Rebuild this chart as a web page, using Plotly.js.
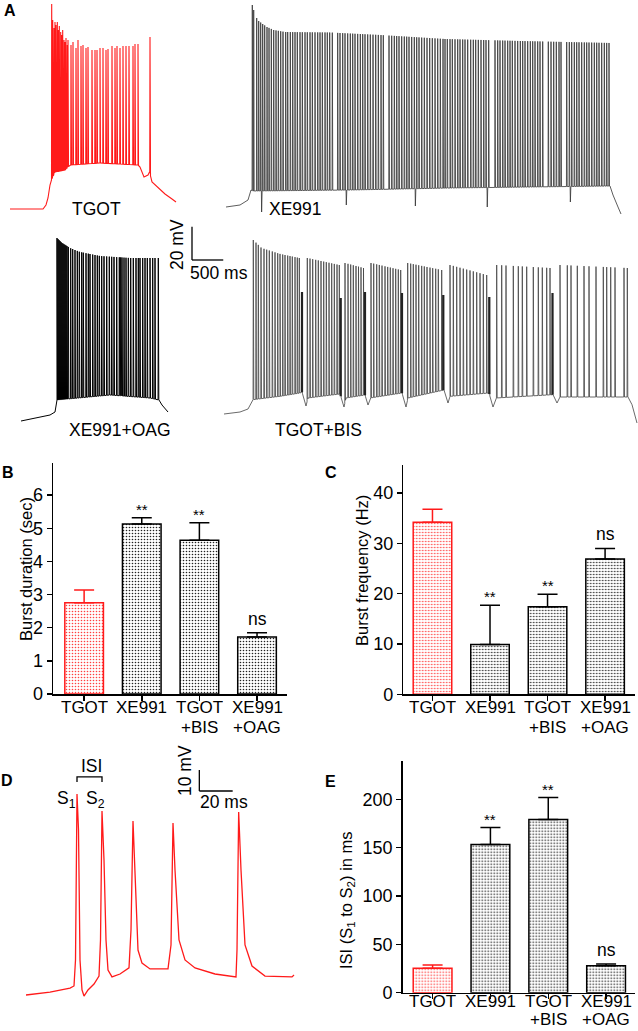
<!DOCTYPE html>
<html><head><meta charset="utf-8">
<script src="https://cdn.plot.ly/plotly-3.0.1.min.js"></script>
<style>html,body{margin:0;padding:0;background:#fff}#chart{width:638px;height:1031px}</style>
</head><body><div id="chart"></div>
<script>
// ================= DATA =================
// Panel A traces: time in ms from trace start, membrane potential in mV
const tgotEnvT = [0,528,576,608,640,664,720,880,960,1440,2048,2080,2144,2208,2232,2272,2368,2480,2592,2656];
const tgotEnvV = [-65,-65,-62.6,-58.4,-50.6,-47.6,-42.8,-41.6,-38.6,-37.4,-38.6,-39.8,-45.8,-44.6,-42.8,-48.8,-52.4,-56,-59,-60.8];
const tgotSpikeT = [667,683,704,720,736,757,773,789,811,827,843,864,880,896,917,928,976,1008,1056,1088,1136,1168,1216,1248,1312,1360,1392,1440,1488,1536,1568,1632,1680,1712,1760,1808,1856,1904,1968,2000,2048,2240];
const tgotSpikeV = [58,48.4,43.6,47.2,45.4,47.2,42.4,44.8,41.2,39.4,42.4,36.4,35.2,37.6,33.4,36.4,33.4,35.2,31.6,36.4,32.8,33.4,31.6,32.2,30.4,30.4,30.4,31.6,31.6,30.4,31,32.8,31.6,32.8,31.6,32.8,32.8,32.8,32.8,34,34,38.2];

const xeEnvT = [0,224,352,400,432,1984,3584,6144,6192,6272,6320];
const xeEnvV = [-65,-63.8,-60.8,-54.8,-55.4,-54.8,-53.6,-52.4,-57.8,-65,-69.2];
const xeSpikeT = [421,443,491,523,555,587,619,656,688,725,763,800,837,875,912,955,987,1029,1067,1104,1141,1184,1221,1264,1301,1344,1381,1424,1467,1504,1541,1584,1621,1659,1701,1787,1824,1867,1904,1947,1989,2027,2064,2107,2149,2187,2224,2267,2309,2352,2395,2437,2480,2517,2608,2651,2693,2731,2768,2811,2853,2891,2928,2971,3013,3051,3088,3131,3173,3216,3259,3301,3344,3387,3429,3472,3504,3541,3584,3621,3664,3707,3744,3787,3824,3867,3915,3957,3995,4037,4080,4123,4160,4203,4304,4347,4384,4427,4464,4507,4544,4581,4624,4667,4709,4747,4784,4827,4869,4907,4944,4987,5024,5067,5157,5200,5243,5285,5328,5360,5451,5493,5531,5573,5611,5648,5691,5733,5771,5808,5851,5893,5931,5968,6011,6053,6091,6128];
const xePeakT = [421,443,491,523,587,656,763,944,1664,2464,3504,4704,6144];
const xePeakV = [56.2,53.2,48.4,46.6,44.8,43,41.2,40,39.7,38.2,35.8,34.6,33.4];
const xeArtifactT = [570,1925,3030,4180,5510];
const xeArtifactV = [-68,-63.8,-64.4,-65,-62];

const oagEnvT = [0,224,464,544,576,1424,2064,2208,2256,2352];
const oagEnvV = [-65.6,-63.8,-62,-60.2,-53,-50,-51.8,-53,-56,-60.2];
const oagSpikeT = [576,592,608,624,640,656,672,688,704,720,736,757,795,827,864,901,933,971,997,1040,1077,1104,1147,1184,1221,1253,1291,1328,1371,1413,1451,1488,1531,1573,1595,1616,1648,1680,1717,1755,1797,1840,1877,1904,1947,1984,2021,2064,2107,2144,2197];
const oagPeakT = [576,656,784,944,1264,1744,2197];
const oagPeakV = [44.2,41.2,38.2,35.8,33.4,32.2,32.2];

const bisEnvT = [0,256,384,448,464,896,1216,1248,1312,1344,1856,1920,1952,2256,2304,2336,2848,2912,2944,3520,3584,3616,4240,4304,4352,5264,5328,5376,6464,6528,6608];
const bisEnvV = [-65.6,-64.4,-62.6,-58.4,-57,-55,-53,-52.4,-60.8,-56,-53.6,-61.4,-56,-54.2,-60.2,-56,-53,-61.4,-56,-51.2,-59,-55,-53,-61.4,-56,-54,-59,-55.4,-55.4,-60,-71];
const bisSpikeT = [469,512,549,592,640,683,725,773,816,859,896,939,976,1019,1056,1093,1136,1173,1205,
  1333,1376,1419,1467,1509,1552,1595,1637,1680,1723,1765,1808,1845,
  1936,1984,2027,2069,2112,2152,2192,2232,
  2352,2395,2443,2485,2528,2576,2619,2661,2704,2747,2789,2827,
  2939,2987,3029,3072,3115,3163,3205,3248,3296,3339,3387,3429,3483,
  3616,3669,3723,3776,3829,3883,3936,3989,4043,4096,4149,4203,
  4363,4443,4512,4629,4709,4773,4843,4949,5029,5093,5163,5216,
  5376,5493,5552,5653,5760,5840,5952,6069,6123,6187,6256,6400,6453];
const bisPeakT = [469,600,900,1205,1333,1845,1936,2232,2352,2827,2939,3483,3616,4203,4363,5216,5376,6453];
const bisPeakV = [38.8,34,30.4,28,28,23.8,25,22,25,20.8,25,20.8,23.8,17.8,23.8,22,23.8,22];
const bisPartialT = [1248,1867,2256,2848,3509,4245,5256];
const bisPartialV = [7.6,4,7.6,7,5.8,4.6,7];

// Panel D: time ms, mV
const dT = [0,14.4,26.4,28.8,29.7,30.6,31.5,32.4,33.6,34.8,37.2,40.8,43.8,44.7,45.6,46.8,48,49.2,51.6,56.4,61.8,63,64.2,65.4,67.2,69.6,74.4,85.2,87,88.2,89.4,91.8,95.4,101.4,113.4,126,126.6,127.6,129,131.4,135.6,143.4,155.4,159.6,160.8];
const dV = [-65,-63.6,-61.7,-60.7,-48.3,30.7,13.5,-48.3,-62.6,-65.5,-62.6,-59.8,-56,-38.8,22.6,-0.7,-38.8,-53.1,-56.4,-55,-52.1,-34.1,17.8,-10.3,-43.6,-49.8,-52.6,-52.6,-41.2,16.9,-5.5,-38.8,-48.3,-52.1,-55,-56.4,-43.6,22.1,-5.5,-41.2,-51.2,-56,-56.4,-56.4,-55.5];

// Scale bars
const scaleA_ms = 500, scaleA_mV = 20;
const scaleD_ms = 20, scaleD_mV = 10;

// Bar charts
const categories = ['TGOT','XE991','TGOT<br>+BIS','XE991<br>+OAG'];
const burstDuration = [2.75, 5.13, 4.64, 1.72];
const burstDurationSem = [0.39, 0.19, 0.53, 0.13];
const burstFreq = [34.2, 9.9, 17.4, 26.9];
const burstFreqSem = [2.6, 7.8, 2.5, 2.1];
const isiMs = [25.2, 153.3, 179.1, 27.9];
const isiSem = [3.4, 17.6, 22.8, 1.7];
const significance = ['', '**', '**', 'ns'];

// ================= DRAWING =================
const W = 638, H = 1031;
const FONT = 'Arial, "Liberation Sans", Helvetica, sans-serif';
const RED = '#ff1a1a';
const MS_PER_PX = 16, MV_PER_PX = 0.6, REST = -65;

function interp(xs, ys, x){
  if (x <= xs[0]) return ys[0];
  for (let i = 1; i < xs.length; i++){
    if (x <= xs[i]){ const f = (x - xs[i-1]) / (xs[i] - xs[i-1]); return ys[i-1] + f * (ys[i] - ys[i-1]); }
  }
  return ys[ys.length - 1];
}
function buildTrace(envT, envV, events){
  const pts = [];
  envT.forEach((t, i) => pts.push([t, envV[i]]));
  events.forEach(e => {
    pts.push([e.t - 4, interp(envT, envV, e.t - 4)]);
    pts.push([e.t, e.v]);
    pts.push([e.t + 8, interp(envT, envV, e.t + 8)]);
  });
  pts.sort((a, b) => a[0] - b[0]);
  return {x: pts.map(p => p[0]), y: pts.map(p => p[1])};
}
function spikesFrom(times, peaks, peakT, peakV){
  return times.map((t, i) => ({t, v: peaks ? peaks[i] : interp(peakT, peakV, t)}));
}
const dx = (l, r) => [l / W, r / W];
const dy = (t, b) => [1 - b / H, 1 - t / H];
function traceAxes(l, r, t, b, basePx){
  return {
    x: {domain: dx(l, r), range: [0, (r - l) * MS_PER_PX], visible: false, fixedrange: true},
    y: {domain: dy(t, b), range: [REST - (b - basePx) * MV_PER_PX, REST + (basePx - t) * MV_PER_PX], visible: false, fixedrange: true}
  };
}

const axTGOT = traceAxes(10, 178, 0, 215, 209);
const axXE = traceAxes(226, 626, 0, 218, 207);
const axOAG = traceAxes(21, 236, 222, 426, 420);
const axBIS = traceAxes(224, 638, 232, 428, 413);
const axD = {
  x: {domain: dx(20, 300), range: [(20 - 26) * 0.6, (300 - 26) * 0.6], visible: false, fixedrange: true},
  y: {domain: dy(760, 1000), range: [-65 - 5 * 0.476, -65 - 5 * 0.476 + 240 * 0.476], visible: false, fixedrange: true}
};

const tgot = buildTrace(tgotEnvT, tgotEnvV, spikesFrom(tgotSpikeT, tgotSpikeV));
const xe = buildTrace(xeEnvT, xeEnvV,
  spikesFrom(xeSpikeT, null, xePeakT, xePeakV).concat(xeArtifactT.map((t, i) => ({t, v: xeArtifactV[i]}))));
const oag = buildTrace(oagEnvT, oagEnvV, spikesFrom(oagSpikeT, null, oagPeakT, oagPeakV));
const bis = buildTrace(bisEnvT, bisEnvV,
  spikesFrom(bisSpikeT, null, bisPeakT, bisPeakV).concat(spikesFrom(bisPartialT, bisPartialV)));
// thicker overlay for the broad, incomplete spikes at the end of each BIS group
const bisPartX = [], bisPartY = [];
bisPartialT.forEach((t, i) => { bisPartX.push(t, t, null); bisPartY.push(interp(bisEnvT, bisEnvV, t), bisPartialV[i], null); });

const data = [
  {x: tgot.x, y: tgot.y, xaxis: 'x', yaxis: 'y', mode: 'lines', line: {color: RED, width: 1.1}, hoverinfo: 'skip'},
  {x: xe.x, y: xe.y, xaxis: 'x2', yaxis: 'y2', mode: 'lines', line: {color: '#333', width: 0.8}, hoverinfo: 'skip'},
  {x: oag.x, y: oag.y, xaxis: 'x3', yaxis: 'y3', mode: 'lines', line: {color: '#000', width: 1}, hoverinfo: 'skip'},
  {x: bis.x, y: bis.y, xaxis: 'x4', yaxis: 'y4', mode: 'lines', line: {color: '#444', width: 0.8}, hoverinfo: 'skip'},
  {x: bisPartX, y: bisPartY, xaxis: 'x4', yaxis: 'y4', mode: 'lines', line: {color: '#222', width: 2.2}, hoverinfo: 'skip', connectgaps: false},
  {x: dT, y: dV, xaxis: 'x5', yaxis: 'y5', mode: 'lines', line: {color: RED, width: 1.3}, hoverinfo: 'skip'}
];

function barTraces(vals, sems, xa, ya){
  const common = {type: 'bar', xaxis: xa, yaxis: ya, width: 0.67, hoverinfo: 'skip'};
  return [
    Object.assign({}, common, {x: [categories[0]], y: [vals[0]],
      marker: {color: '#fff', line: {color: RED, width: 1.5}, pattern: {shape: '.', fgcolor: '#ff4040', bgcolor: '#fff', size: 3, solidity: 0.22}},
      error_y: {type: 'data', symmetric: false, array: [sems[0]], arrayminus: [0], color: RED, thickness: 1.5, width: 10}}),
    Object.assign({}, common, {x: categories.slice(1), y: vals.slice(1),
      marker: {color: '#fff', line: {color: '#000', width: 1.5}, pattern: {shape: '.', fgcolor: '#222', bgcolor: '#fff', size: 3, solidity: 0.22}},
      error_y: {type: 'data', symmetric: false, array: sems.slice(1), arrayminus: sems.slice(1).map(() => 0), color: '#000', thickness: 1.5, width: 10}})
  ];
}
data.push(...barTraces(burstDuration, burstDurationSem, 'x6', 'y6'));
data.push(...barTraces(burstFreq, burstFreqSem, 'x7', 'y7'));
data.push(...barTraces(isiMs, isiSem, 'x8', 'y8'));

function catX(l, r, range){
  return {domain: dx(l, r), range, type: 'category', categoryorder: 'array', categoryarray: categories,
    showline: true, linewidth: 1.5, linecolor: '#000', ticks: 'outside', ticklen: 5, tickwidth: 1.5, tickcolor: '#000',
    showticklabels: false, showgrid: false, zeroline: false, fixedrange: true};
}
function valY(t, b, range, dtick){
  return {domain: dy(t, b), range, dtick, tick0: 0, showline: true, linewidth: 1.5, linecolor: '#000',
    ticks: 'outside', ticklen: 5, tickwidth: 1.5, tickcolor: '#000', tickfont: {size: 18, family: FONT, color: '#000'},
    showgrid: false, zeroline: false, fixedrange: true};
}

const layout = {
  width: W, height: H, margin: {l: 0, r: 0, t: 0, b: 0}, showlegend: false,
  paper_bgcolor: '#fff', plot_bgcolor: 'rgba(0,0,0,0)', barmode: 'overlay',
  font: {family: FONT, size: 17, color: '#000'},
  xaxis: Object.assign({anchor: 'y'}, axTGOT.x), yaxis: Object.assign({anchor: 'x'}, axTGOT.y),
  xaxis2: Object.assign({anchor: 'y2'}, axXE.x), yaxis2: Object.assign({anchor: 'x2'}, axXE.y),
  xaxis3: Object.assign({anchor: 'y3'}, axOAG.x), yaxis3: Object.assign({anchor: 'x3'}, axOAG.y),
  xaxis4: Object.assign({anchor: 'y4'}, axBIS.x), yaxis4: Object.assign({anchor: 'x4'}, axBIS.y),
  xaxis5: Object.assign({anchor: 'y5'}, axD.x), yaxis5: Object.assign({anchor: 'x5'}, axD.y),
  xaxis6: Object.assign({anchor: 'y6'}, catX(53, 287, [-0.54, 3.52])),
  yaxis6: Object.assign({anchor: 'x6'}, valY(463, 694, [0, 6.97], 1)),
  xaxis7: Object.assign({anchor: 'y7'}, catX(403.3, 635, [-0.507, 3.52])),
  yaxis7: Object.assign({anchor: 'x7'}, valY(465, 694.3, [0, 45.6], 10)),
  xaxis8: Object.assign({anchor: 'y8'}, catX(402.7, 635, [-0.517, 3.5])),
  yaxis8: Object.assign({anchor: 'x8'}, valY(760.7, 992.7, [0, 240], 50)),
  shapes: [], annotations: []
};

// scale bars (data units on their trace axes)
const sbA = {t: (192 - 21) * MS_PER_PX, v: REST + (420 - 260) * MV_PER_PX};
layout.shapes.push({type: 'line', xref: 'x3', yref: 'y3', x0: sbA.t, x1: sbA.t, y0: sbA.v, y1: sbA.v + scaleA_mV, line: {color: '#000', width: 1.3}});
layout.shapes.push({type: 'line', xref: 'x3', yref: 'y3', x0: sbA.t, x1: sbA.t + scaleA_ms, y0: sbA.v, y1: sbA.v, line: {color: '#000', width: 1.3}});
const sbD = {t: 104, v: 32.1};
layout.shapes.push({type: 'line', xref: 'x5', yref: 'y5', x0: sbD.t, x1: sbD.t, y0: sbD.v, y1: sbD.v + scaleD_mV, line: {color: '#000', width: 1.3}});
layout.shapes.push({type: 'line', xref: 'x5', yref: 'y5', x0: sbD.t, x1: sbD.t + scaleD_ms, y0: sbD.v, y1: sbD.v, line: {color: '#000', width: 1.3}});
// ISI bracket between S1 and S2 peaks
const s1 = dT[dV.indexOf(Math.max(...dV))];
const s2 = 45.6;
layout.shapes.push({type: 'path', xref: 'x5', yref: 'y5', path: `M ${s1} 36.4 L ${s1} 38.8 L ${s2} 38.8 L ${s2} 36.4`, line: {color: '#000', width: 1.3}});

function ann(px, py, text, opts){
  layout.annotations.push(Object.assign({xref: 'paper', yref: 'paper', x: px / W, y: 1 - py / H, text,
    showarrow: false, xanchor: 'center', yanchor: 'middle', font: {size: 17.5, family: FONT, color: '#000'}}, opts || {}));
}
// panel letters
ann(10, 10, '<b>A</b>', {font: {size: 16, family: FONT}});
ann(8, 472, '<b>B</b>', {font: {size: 16, family: FONT}});
ann(331, 473, '<b>C</b>', {font: {size: 16, family: FONT}});
ann(7, 780, '<b>D</b>', {font: {size: 16, family: FONT}});
ann(330, 781, '<b>E</b>', {font: {size: 16, family: FONT}});
// panel A labels
ann(97, 209, 'TGOT');
ann(295, 209, 'XE991');
ann(120, 430, 'XE991+OAG');
ann(318, 430, 'TGOT+BIS');
ann(177, 245, '20 mV', {textangle: -90});
ann(219, 273, '500 ms');
// panel D labels
ann(91, 766, 'ISI');
ann(66, 799, 'S<sub>1</sub>');
ann(95, 799, 'S<sub>2</sub>');
ann(185, 771, '10 mV', {textangle: -90});
ann(224, 802, '20 ms');
// axis titles
ann(26, 569, 'Burst duration (sec)', {textangle: -90, font: {size: 16.5, family: FONT}});
ann(362, 571, 'Burst frequency (Hz)', {textangle: -90, font: {size: 16.5, family: FONT}});
ann(347, 900, 'ISI (S<sub>1</sub> to S<sub>2</sub>) in ms', {textangle: -90, font: {size: 16.5, family: FONT}});

// category labels (two lines placed tightly under each axis)
function catLabels(xa, firstLinePy, gap){
  categories.forEach(c => {
    c.split('<br>').forEach((line, k) => {
      layout.annotations.push({xref: xa, yref: 'paper', x: c, y: 1 - (firstLinePy + k * gap) / H, text: line,
        showarrow: false, xanchor: 'center', yanchor: 'middle', height: 17, valign: 'middle', borderpad: 0,
        font: {size: 17, family: FONT, color: '#000'}});
    });
  });
}
catLabels('x6', 707, 20);
catLabels('x7', 707.5, 20);
catLabels('x8', 1001.5, 17.5);

// significance marks
function sigMarks(vals, sems, xa, ya){
  categories.forEach((c, i) => {
    if (!significance[i]) return;
    const star = significance[i] === '**';
    layout.annotations.push({xref: xa, yref: ya, x: c, y: vals[i] + sems[i], text: significance[i], showarrow: false,
      yanchor: 'bottom', yshift: star ? -2 : 2, font: {size: star ? 15 : 17.5, family: FONT, color: '#000'}});
  });
}
sigMarks(burstDuration, burstDurationSem, 'x6', 'y6');
sigMarks(burstFreq, burstFreqSem, 'x7', 'y7');
sigMarks(isiMs, isiSem, 'x8', 'y8');

Plotly.newPlot('chart', data, layout, {displayModeBar: false, staticPlot: true});
</script>
</body></html>
